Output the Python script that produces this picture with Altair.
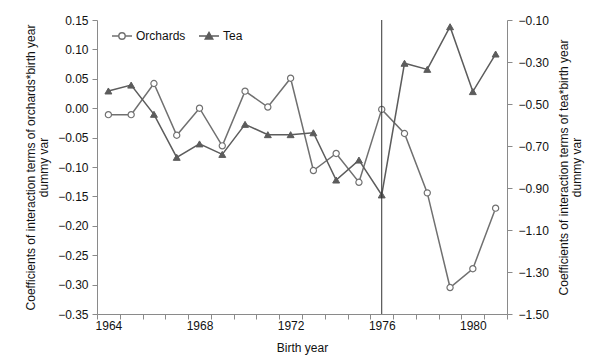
import altair as alt
import pandas as pd

years = list(range(1964, 1982))
orchards = [-0.011, -0.011, 0.042, -0.046, 0.000, -0.064, 0.029, 0.002, 0.051,
            -0.106, -0.077, -0.126, -0.002, -0.043, -0.144, -0.305, -0.273, -0.170]
tea = [-0.438, -0.410, -0.549, -0.754, -0.690, -0.740, -0.597, -0.646, -0.646,
       -0.637, -0.862, -0.767, -0.933, -0.306, -0.335, -0.132, -0.441, -0.262]
cutoff_year = [1976]
series_names = ["Orchards", "Tea"]
x_label_years = [1964, 1968, 1972, 1976, 1980]
left_ticks = [-0.35, -0.30, -0.25, -0.20, -0.15, -0.10, -0.05, 0.00, 0.05, 0.10, 0.15]
right_ticks = [-1.50, -1.30, -1.10, -0.90, -0.70, -0.50, -0.30, -0.10]

OR_C = "#707070"
TEA_C = "#5c5c5c"
AX_C = "#8a8a8a"
FONT = "Liberation Sans"

df = pd.DataFrame({"year": years, "orchards": orchards, "tea": tea})
rule_df = pd.DataFrame({"year": cutoff_year})

half_years = [y - 0.5 for y in years] + [years[-1] + 0.5]
x_scale = alt.Scale(domain=[half_years[0], half_years[-1]], nice=False, zero=False)

label_axis = alt.Axis(
    values=x_label_years, format="d", orient="bottom",
    ticks=False, domain=True, grid=False, labelOverlap=False, labelFlush=False,
    title="Birth year", titlePadding=11, labelPadding=6,
)
tick_axis = alt.Axis(
    values=half_years, orient="bottom", labels=False, ticks=True, domain=False,
    grid=False, title=None,
)
x_lab = alt.X("year:Q", scale=x_scale, axis=label_axis)
x_none = alt.X("year:Q", scale=x_scale, axis=None)
x_tick = alt.X("year:Q", scale=x_scale, axis=tick_axis)

left_axis = alt.Axis(
    values=left_ticks, format=".2f", grid=False, orient="left",
    title=["Coefficients of interaction terms of orchards*birth year", "dummy var"],
    titlePadding=7, labelPadding=4,
)
right_axis = alt.Axis(
    values=right_ticks, format=".2f", grid=False, orient="right",
    title=["Coefficients of interaction terms of tea*birth year", "dummy var"],
    titleAngle=270, titleBaseline="top", titlePadding=-3, labelPadding=6,
)

y_left = alt.Y("orchards:Q", scale=alt.Scale(domain=[-0.35, 0.15], nice=False, zero=False),
               axis=left_axis)
y_right = alt.Y("tea:Q", scale=alt.Scale(domain=[-1.5, -0.1], nice=False, zero=False),
                axis=right_axis)

base = alt.Chart(df)
or_line = base.mark_line(color=OR_C, strokeWidth=1.5).encode(x=x_lab, y=y_left)
or_pts = base.mark_point(shape="circle", filled=True, fill="white", stroke=OR_C,
                         strokeWidth=1.2, size=38, opacity=1).encode(x=x_lab, y=y_left)
left = alt.layer(or_line, or_pts)

tea_line = base.mark_line(color=TEA_C, strokeWidth=1.5).encode(x=x_none, y=y_right)
tea_pts = base.mark_point(shape="triangle-up", filled=True, fill=TEA_C, stroke=TEA_C,
                          strokeWidth=1, size=48, opacity=1).encode(x=x_none, y=y_right)
right = alt.layer(tea_line, tea_pts)

rule = alt.Chart(rule_df).mark_rule(color="#333333", strokeWidth=1).encode(x=x_tick)

circle_path = ("M-1,0L-0.32,0M0.32,0L1,0"
               "M-0.32,0A0.32,0.32 0 1,0 0.32,0A0.32,0.32 0 1,0 -0.32,0Z")
tri_path = "M-1,0L1,0M0,-0.36L0.38,0.3L-0.38,0.3Z"

legend = alt.Legend(
    orient="none", legendX=14, legendY=5, direction="horizontal", title=None,
    symbolSize=400, symbolStrokeWidth=1.4, labelFontSize=12, labelFont=FONT,
    labelColor="#111111", columnPadding=10, labelOffset=3,
)
leg_layer = base.transform_filter("false").mark_point(filled=True, opacity=1).encode(
    shape=alt.Shape("series:N", scale=alt.Scale(domain=series_names,
                                                 range=[circle_path, tri_path]),
                    legend=legend),
    fill=alt.Fill("series:N", scale=alt.Scale(domain=series_names, range=["white", TEA_C]),
                  legend=legend),
    stroke=alt.Stroke("series:N", scale=alt.Scale(domain=series_names, range=[OR_C, TEA_C]),
                      legend=legend),
)

chart = alt.layer(left, right, rule, leg_layer).resolve_scale(
    y="independent"
).resolve_axis(x="independent").properties(
    width=410, height=294,
    autosize=alt.AutoSizeParams(type="none"),
    padding={"left": 89, "top": 12, "right": 84, "bottom": 43},
).configure_view(stroke=None).configure_axis(
    labelFont=FONT, titleFont=FONT, labelFontSize=12, titleFontSize=12,
    titleFontWeight="normal", labelColor="#111111", titleColor="#111111",
    domainColor=AX_C, tickColor=AX_C, tickSize=5, titleLineHeight=13,
)

chart.save("out.html", embed_options={"renderer": "svg", "actions": False})
